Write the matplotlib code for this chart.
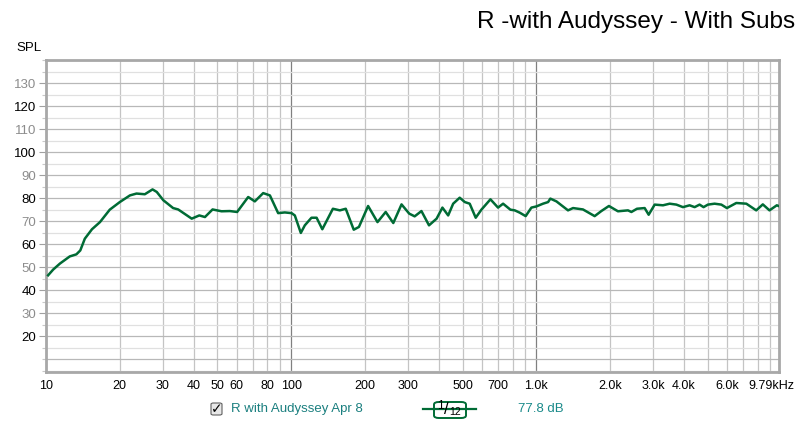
import matplotlib.pyplot as plt
import matplotlib.ticker as mticker
from matplotlib.patches import FancyBboxPatch

# values (Hz, dB SPL)
freq = [10.2, 10.7, 11.4, 12.5, 13.3, 13.8, 14.4, 15.4, 16.6, 18.2, 20.0, 22.0,
        23.4, 25.3, 27.2, 28.3, 30.1, 33.0, 34.6, 39.3, 42.2, 44.5, 47.8, 52.0,
        56.2, 60.2, 66.8, 71.1, 76.9, 81.9, 88.5, 94.2, 100.4, 103.5, 109.5,
        113.7, 121, 127, 134, 148, 158, 167, 180, 189, 206, 225, 243, 261, 282,
        303, 319, 340, 365, 392, 414, 437, 458, 487, 511, 535, 566, 597, 650,
        698, 732, 784, 817, 856, 905, 955, 1000, 1065, 1117, 1141, 1208, 1347,
        1412, 1550, 1730, 1842, 1978, 2153, 2365, 2443, 2574, 2767, 2873, 3040,
        3286, 3500, 3727, 3965, 4220, 4424, 4634, 4811, 5012, 5336, 5685, 5990,
        6542, 7190, 7891, 8394, 8936, 9573, 9790]
spl = [46.5, 49.0, 51.6, 54.7, 55.6, 57.3, 62.4, 66.5, 69.6, 75.0, 78.3, 81.2,
       82.0, 81.7, 83.8, 82.7, 79.1, 75.7, 75.1, 71.1, 72.5, 71.8, 75.1, 74.3,
       74.4, 74.0, 80.5, 78.6, 82.2, 81.2, 73.5, 73.8, 73.5, 72.5, 64.9,
       68.2, 71.5, 71.5, 66.5, 75.4, 74.7, 75.4, 66.3, 67.5, 76.6, 69.6, 74.0,
       69.2, 77.3, 73.3, 72.1, 74.4, 68.2, 71.1, 75.9, 72.5, 77.6, 80.2, 78.3,
       77.6, 71.5, 75.0, 79.5, 75.9, 77.6, 75.0, 74.7, 73.7, 72.2, 75.9, 76.4,
       77.6, 78.3, 79.8, 78.6, 74.7, 75.7, 75.1, 72.2, 74.4, 76.6, 74.3, 74.7,
       74.0, 75.4, 75.7, 72.8, 77.2, 76.9, 77.6, 77.2, 76.1, 76.9, 76.1, 77.2,
       76.1, 77.2, 77.6, 77.2, 75.7, 77.9, 77.6, 74.7, 77.3, 74.7, 76.9, 76.5]

xticks = [10, 20, 30, 40, 50, 60, 80, 100, 200, 300, 500, 700,
          1000, 2000, 3000, 4000, 6000, 9790]
xlabels = ['10', '20', '30', '40', '50', '60', '80', '100', '200', '300', '500',
           '700', '1.0k', '2.0k', '3.0k', '4.0k', '6.0k', '']
yticks = [20, 30, 40, 50, 60, 70, 80, 90, 100, 110, 120, 130]

plt.rcParams['font.family'] = ['Liberation Sans', 'DejaVu Sans']

fig = plt.figure(figsize=(8, 4.24), dpi=100)
ax = fig.add_axes([0.0575, 0.1226, 0.9165, 0.7359])
ax.set_xscale('log')
ax.set_xlim(10, 9790)
ax.set_ylim(4.5, 140)

# grid: vertical lines at every 1..9 x decade, darker at decades
for dec in [10, 100, 1000]:
    for m in range(1, 10):
        f = dec * m
        if f > 9790:
            continue
        c = '#808080' if (m == 1 and dec > 10) else '#c4c4c4'
        ax.axvline(f, color=c, lw=0.9, zorder=1)
for v in range(5, 141, 5):
    c = '#b8b8b8' if v % 10 == 0 else '#e0e0e0'
    ax.axhline(v, color=c, lw=0.9, zorder=1)

ax.plot(freq, spl, color='#006b35', lw=1.8, zorder=3, solid_joinstyle='round')

ax.xaxis.set_major_locator(mticker.FixedLocator(xticks))
ax.xaxis.set_major_formatter(mticker.FixedFormatter(xlabels))
ax.xaxis.set_minor_locator(mticker.NullLocator())
ax.set_yticks(yticks)
ax.set_yticks(range(5, 141, 5), minor=True)
ax.tick_params(axis='x', length=0, pad=6, labelsize=9, colors='black')
ax.tick_params(axis='y', which='major', length=5, width=0.8, color='#a0a0a0',
               labelsize=9.5, pad=2)
ax.tick_params(axis='y', which='minor', length=3, width=0.8, color='#c8c8c8')
for lab, v in zip(ax.get_yticklabels(), yticks):
    lab.set_color('black' if v % 20 == 0 else '#8c8c8c')
# last frequency label sits right of its tick, inside the figure
ax.annotate('9.79kHz', xy=(xticks[-1], 0), xycoords=('data', 'axes fraction'),
            xytext=(11, -6), textcoords='offset points', ha='right', va='top',
            fontsize=9, annotation_clip=False)

for s in ax.spines.values():
    s.set_color('#a8a8a8')
    s.set_linewidth(2)

fig.text(0.994, 0.948, 'R -with Audyssey - With Subs', ha='right', va='center',
         fontsize=17.5)
fig.text(0.02, 0.886, 'SPL', ha='left', va='center', fontsize=9.5)

# legend row at the bottom
yl = 1 - 409 / 424
fig.patches.append(FancyBboxPatch((211 / 800, 1 - 415 / 424), 11 / 800, 12 / 424,
                                  boxstyle='round,pad=0,rounding_size=0.003',
                                  transform=fig.transFigure, fc='#e8e8e8',
                                  ec='#606060', lw=0.8))
fig.text(216.5 / 800, yl, '\u2713', ha='center', va='center',
         fontsize=10, color='black', fontweight='bold', family='DejaVu Sans')
fig.text(231 / 800, yl, 'R with Audyssey Apr 8', ha='left', va='center',
         fontsize=9.5, color='#1a7f7f')
fig.lines.append(plt.Line2D([423 / 800, 476 / 800], [yl, yl],
                            transform=fig.transFigure, color='#006b35', lw=1.6))
fig.patches.append(FancyBboxPatch((434 / 800, 1 - 418 / 424), 32 / 800, 16 / 424,
                                  boxstyle='round,pad=0,rounding_size=0.006',
                                  transform=fig.transFigure, fc='white',
                                  ec='#006b35', lw=1.4))
fig.text(440 / 800, 1 - 406 / 424, '1', ha='center', va='center',
         fontsize=8.5, color='black')
fig.text(446 / 800, 1 - 409 / 424, '/', ha='center', va='center',
         fontsize=12, color='black')
fig.text(455 / 800, 1 - 412 / 424, '12', ha='center', va='center',
         fontsize=7.5, color='black')
fig.text(518 / 800, yl, '77.8 dB', ha='left', va='center',
         fontsize=9.5, color='#1a8a8a')

fig.savefig('out.png', dpi=100)
